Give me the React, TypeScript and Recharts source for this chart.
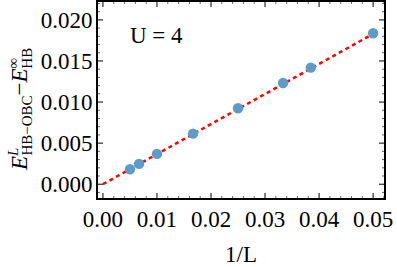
import React from "react"
import { ScatterChart, Scatter, XAxis, YAxis } from "recharts"

// 1/L values and energy differences
const invL = [0.005, 0.00667, 0.01, 0.01667, 0.025, 0.03333, 0.03846, 0.05]
const deltaE = [0.00182, 0.00247, 0.00369, 0.00616, 0.00925, 0.01232, 0.01419, 0.01837]

// linear fit (red dashed), endpoints
const fitX = [0, 0.05]
const fitY = [0, 0.0183]

const xMajor = [0, 0.01, 0.02, 0.03, 0.04, 0.05]
const xLabels = ["0.00", "0.01", "0.02", "0.03", "0.04", "0.05"]
const xTicks = [
  0, 0.002, 0.004, 0.006, 0.008, 0.01, 0.012, 0.014, 0.016, 0.018, 0.02, 0.022, 0.024, 0.026,
  0.028, 0.03, 0.032, 0.034, 0.036, 0.038, 0.04, 0.042, 0.044, 0.046, 0.048, 0.05, 0.052,
]

const yMajor = [0, 0.005, 0.01, 0.015, 0.02]
const yLabels = ["0.000", "0.005", "0.010", "0.015", "0.020"]
const yTicks = [
  -0.001, 0, 0.001, 0.002, 0.003, 0.004, 0.005, 0.006, 0.007, 0.008, 0.009, 0.01, 0.011, 0.012,
  0.013, 0.014, 0.015, 0.016, 0.017, 0.018, 0.019, 0.02, 0.021, 0.022,
]

const points = invL.map((x, i) => ({ x, y: deltaE[i] }))
const fit = fitX.map((x, i) => ({ x, y: fitY[i] }))

const FONT = "Liberation Serif"
const majorIdx = (v: number, list: number[]) => list.findIndex((m) => Math.abs(m - v) < 1e-9)

// Mathematica-style frame ticks, pointing inward
const BottomTick = ({ x, y, payload }: any) => {
  const i = majorIdx(payload.value, xMajor)
  return (
    <g>
      <line x1={x} x2={x} y1={y} y2={y - (i >= 0 ? 6 : 3)} stroke={i >= 0 ? "#000" : "#666"} strokeWidth={1} />
      {i >= 0 && (
        <text x={x} y={y + 28} textAnchor="middle" fontFamily={FONT} fontSize={23} fill="#000">
          {xLabels[i]}
        </text>
      )}
    </g>
  )
}

const TopTick = ({ x, y, payload }: any) => {
  const i = majorIdx(payload.value, xMajor)
  return <line x1={x} x2={x} y1={y} y2={y + (i >= 0 ? 6 : 3)} stroke={i >= 0 ? "#000" : "#666"} strokeWidth={1} />
}

const LeftTick = ({ x, y, payload }: any) => {
  const i = majorIdx(payload.value, yMajor)
  return (
    <g>
      <line x1={x} x2={x + (i >= 0 ? 6 : 3)} y1={y} y2={y} stroke={i >= 0 ? "#000" : "#666"} strokeWidth={1} />
      {i >= 0 && (
        <text x={x - 4.5} y={y} dy="0.35em" textAnchor="end" fontFamily={FONT} fontSize={23} fill="#000">
          {yLabels[i]}
        </text>
      )}
    </g>
  )
}

const RightTick = ({ x, y, payload }: any) => {
  const i = majorIdx(payload.value, yMajor)
  return <line x1={x} x2={x - (i >= 0 ? 6 : 3)} y1={y} y2={y} stroke={i >= 0 ? "#000" : "#666"} strokeWidth={1} />
}

const XLabel = ({ viewBox }: any) => (
  <text x={viewBox.x + viewBox.width / 2} y={viewBox.y + 63} textAnchor="middle" fontFamily={FONT} fontSize={23} fill="#000">
    1/L
  </text>
)

const Dot = ({ cx, cy }: any) => <circle cx={cx} cy={cy} r={5.2} fill="#5d9cc9" />
const NoDot = () => <g />

const frameLine = { stroke: "#000", strokeWidth: 2 }

export default function App() {
  return (
    <div style={{ position: "relative", width: 397, height: 267, fontFamily: FONT }}>
      <style>{"body{margin:0}"}</style>
      <ScatterChart width={397} height={267} margin={{ top: 0, right: 11, bottom: 0, left: 0 }}>
        <XAxis
          xAxisId="b"
          dataKey="x"
          type="number"
          domain={[-0.0011, 0.0522]}
          ticks={xTicks}
          interval={0}
          height={68}
          tickSize={0}
          tickMargin={0}
          tick={<BottomTick />}
          axisLine={frameLine}
          label={<XLabel />}
        />
        <XAxis
          xAxisId="t"
          orientation="top"
          dataKey="x"
          type="number"
          domain={[-0.0011, 0.0522]}
          ticks={xTicks}
          interval={0}
          height={1}
          tickSize={0}
          tickMargin={0}
          tick={<TopTick />}
          axisLine={frameLine}
        />
        <YAxis
          yAxisId="l"
          dataKey="y"
          type="number"
          domain={[-0.0018, 0.0223]}
          ticks={yTicks}
          interval={0}
          width={97}
          tickSize={0}
          tickMargin={0}
          tick={<LeftTick />}
          axisLine={frameLine}
        />
        <YAxis
          yAxisId="r"
          orientation="right"
          dataKey="y"
          type="number"
          domain={[-0.0018, 0.0223]}
          ticks={yTicks}
          interval={0}
          width={1}
          tickSize={0}
          tickMargin={0}
          tick={<RightTick />}
          axisLine={frameLine}
        />
        <Scatter xAxisId="t" yAxisId="r" data={points} shape={<NoDot />} isAnimationActive={false} />
        <Scatter
          xAxisId="b"
          yAxisId="l"
          data={fit}
          line={{ stroke: "#ff0000", strokeWidth: 2.5, strokeDasharray: "4 3.5" }}
          shape={<NoDot />}
          isAnimationActive={false}
        />
        <Scatter xAxisId="b" yAxisId="l" data={points} shape={<Dot />} isAnimationActive={false} />
      </ScatterChart>
      <svg width={397} height={267} style={{ position: "absolute", left: 0, top: 0, pointerEvents: "none" }}>
        <g fontFamily={FONT} fill="#000">
          <rect x={97} y={1} width={288} height={198} fill="none" stroke="#000" strokeWidth={2} />
          <text x={130} y={43} fontSize={23}>
            U = 4
          </text>
          <text transform="translate(27,170) rotate(-90)" fontSize={23}>
            <tspan fontStyle="italic">E</tspan>
            <tspan fontStyle="italic" fontSize={15} dy={-9}>L</tspan>
            <tspan fontSize={15} dx={-8} dy={14}>HB−OBC</tspan>
            <tspan dy={-5}>−</tspan>
            <tspan fontStyle="italic">E</tspan>
            <tspan fontSize={15} dy={-9}>∞</tspan>
            <tspan fontSize={15} dx={-11} dy={14}>HB</tspan>
          </text>
        </g>
      </svg>
    </div>
  )
}
